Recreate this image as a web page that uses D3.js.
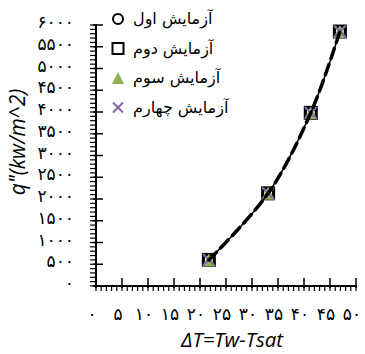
<!DOCTYPE html>
<html><head><meta charset="utf-8">
<script src="https://cdn.jsdelivr.net/npm/d3@7"></script>
<style>body{margin:0;background:#fff}svg{display:block}</style>
</head><body><div id="c"></div>
<script>
const seriesNames = ["آزمایش اول", "آزمایش دوم", "آزمایش سوم", "آزمایش چهارم"];
const deltaT = [21.7, 33.1, 41.3, 46.9];
const s1 = [600, 2130, 3980, 5850];
const s2 = [600, 2130, 3980, 5850];
const s3 = [600, 2130, 3980, 5850];
const s4 = [600, 2130, 3980, 5850];
const xTicks = [0,5,10,15,20,25,30,35,40,45,50];
const yTicks = [0,500,1000,1500,2000,2500,3000,3500,4000,4500,5000,5500,6000];
const xTitle = "ΔT=Tw-Tsat";
const yTitle = "q\"(kw/m^2)";

const fa = n => String(n).replace(/\d/g, d => "۰۱۲۳۴۵۶۷۸۹"[d]);
const W = 365, H = 354;
const svg = d3.select("#c").append("svg").attr("width", W).attr("height", H);
const x = d3.scaleLinear().domain([0, 50]).range([96, 356]);
const y = d3.scaleLinear().domain([0, 6000]).range([286, 25]);
const font = "'DejaVu Sans', sans-serif";
const tfont = "'Open Sans', Lato, sans-serif";

// minor ticks
const gx = svg.append("g");
d3.range(0, 51, 1).forEach(v => {
  gx.append("line").attr("x1", x(v)).attr("x2", x(v)).attr("y1", 286).attr("y2", 291)
    .attr("stroke", "#000").attr("stroke-width", 1.2);
});
xTicks.forEach(v => {
  gx.append("line").attr("x1", x(v)).attr("x2", x(v)).attr("y1", 278).attr("y2", 288)
    .attr("stroke", "#000").attr("stroke-width", 1.5);
  gx.append("text").attr("x", x(v) - 4).attr("y", 320).attr("text-anchor", "middle")
    .attr("font-family", font).attr("font-size", 17).text(fa(v));
});
const gy = svg.append("g");
d3.range(0, 6001, 100).forEach(v => {
  gy.append("line").attr("x1", 90).attr("x2", 96).attr("y1", y(v)).attr("y2", y(v))
    .attr("stroke", "#000").attr("stroke-width", 1.2);
});
yTicks.forEach(v => {
  gy.append("line").attr("x1", 93).attr("x2", 103).attr("y1", y(v)).attr("y2", y(v))
    .attr("stroke", "#000").attr("stroke-width", 1.5);
  gy.append("text").attr("x", 74).attr("y", y(v) + 3).attr("text-anchor", "end")
    .attr("font-family", font).attr("font-size", 17).text(fa(v));
});
svg.append("line").attr("x1", 96).attr("x2", 96).attr("y1", 24).attr("y2", 287).attr("stroke", "#000").attr("stroke-width", 2);
svg.append("line").attr("x1", 95).attr("x2", 357).attr("y1", 286).attr("y2", 286).attr("stroke", "#000").attr("stroke-width", 2);

// titles
svg.append("text").attr("transform", "translate(25,142) rotate(-90)").attr("text-anchor", "middle")
  .attr("font-family", tfont).attr("font-style", "italic").attr("font-size", 21).text(yTitle);
svg.append("text").attr("x", 232).attr("y", 347).attr("text-anchor", "middle")
  .attr("font-family", tfont).attr("font-style", "italic").attr("font-size", 20.5).text(xTitle);

const green = "#8DB359", purple = "#8566A8";
function marker(g, k, cx, cy, legend) {
  if (k === 0) g.append("circle").attr("cx", cx).attr("cy", cy).attr("r", 5).attr("fill", "none").attr("stroke", "#000").attr("stroke-width", 2);
  if (k === 1) { const s = legend ? 11 : 12; g.append("rect").attr("x", cx - s/2).attr("y", cy - s/2).attr("width", s).attr("height", s).attr("fill", "none").attr("stroke", "#000").attr("stroke-width", 2); }
  if (k === 2) { const s = legend ? 6 : 6.5; g.append("path").attr("d", `M${cx},${cy - s}L${cx + s},${cy + s}L${cx - s},${cy + s}Z`).attr("fill", green); }
  if (k === 3) { const s = legend ? 5 : 6; g.append("path").attr("d", `M${cx - s},${cy - s}L${cx + s},${cy + s}M${cx + s},${cy - s}L${cx - s},${cy + s}`).attr("stroke", purple).attr("stroke-width", 2); }
}
const all = [s1, s2, s3, s4];
const gm = svg.append("g");
all.forEach((s, k) => s.forEach((v, i) => marker(gm, k, x(deltaT[i]), y(v), false)));

// curve
const pts = deltaT.map((d, i) => [d, (s1[i] + s2[i] + s3[i] + s4[i]) / 4]);
const line = d3.line().x(d => x(d[0])).y(d => y(d[1])).curve(d3.curveCatmullRom);
svg.append("path").attr("d", line(pts)).attr("fill", "none").attr("stroke", "#000").attr("stroke-width", 1.5);
svg.append("path").attr("d", line(pts)).attr("fill", "none").attr("stroke", "#000").attr("stroke-width", 3.5)
  .attr("stroke-dasharray", "11,6").attr("stroke-linecap", "round");

// legend
const gl = svg.append("g");
seriesNames.forEach((n, k) => {
  const cy = 19 + k * 29.5;
  marker(gl, k, 118, cy, true);
  gl.append("text").attr("x", 133).attr("y", cy + 5).attr("font-family", font).attr("font-size", 16).text(n);
});
</script></body></html>
